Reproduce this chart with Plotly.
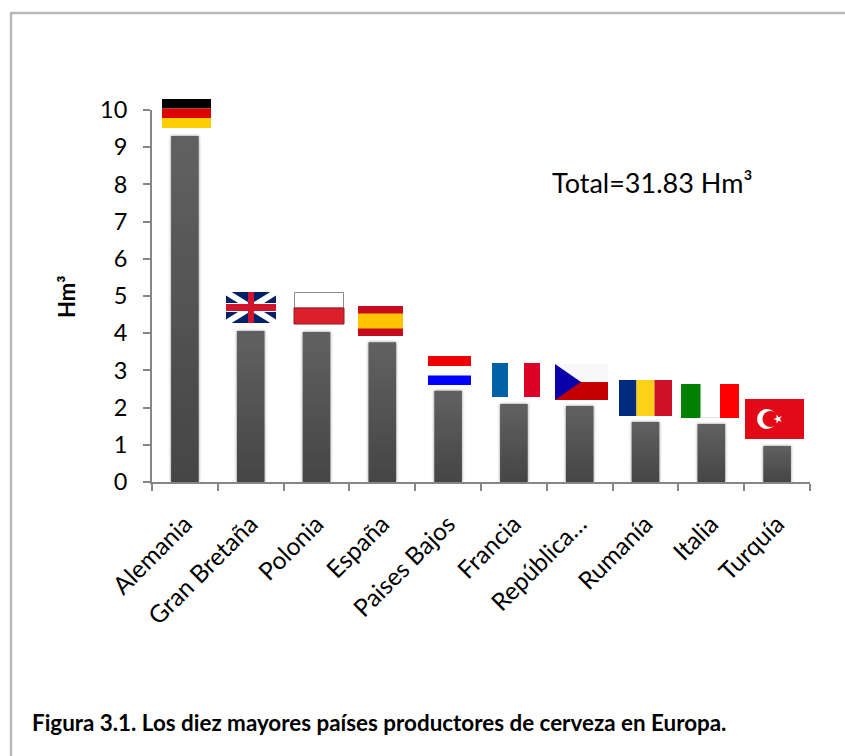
import math
import plotly.graph_objects as go

countries = ["Alemania", "Gran Bretaña", "Polonia", "España", "Paises Bajos",
             "Francia", "República…", "Rumanía", "Italia", "Turquía"]
production_hm3 = [9.3, 4.06, 4.03, 3.76, 2.45, 2.1, 2.04, 1.61, 1.56, 0.97]
y_ticks = list(range(0, 11))
total_label = "Total=31.83 Hm³"
y_title = "Hm³"
caption = "Figura 3.1. Los diez mayores países productores de cerveza en Europa."

FONT = "Lato, Carlito, Calibri, sans-serif"
L, R, T, B = 152, 810, 110, 482
W, H = 845, 756


def px(x):
    return (x - L) / (R - L)


def py(y):
    return (B - y) / (B - T)


def rect(x0, y0, x1, y1, fill, line=None, lw=1):
    return dict(type="rect", xref="paper", yref="paper", x0=px(x0), x1=px(x1), y0=py(y0), y1=py(y1),
                fillcolor=fill, line=dict(color=line or fill, width=lw if line else 0), layer="above")


def poly(points, fill):
    d = "M " + " L ".join(f"{px(a):.5f},{py(b):.5f}" for a, b in points) + " Z"
    return dict(type="path", xref="paper", yref="paper", path=d, fillcolor=fill, line=dict(width=0), layer="above")


def circle(cx, cy, r, fill):
    return dict(type="circle", xref="paper", yref="paper", x0=px(cx - r), x1=px(cx + r),
                y0=py(cy + r), y1=py(cy - r), fillcolor=fill, line=dict(width=0), layer="above")


def line(x0, y0, x1, y1, color, width):
    return dict(type="line", xref="paper", yref="paper", x0=px(x0), x1=px(x1), y0=py(y0), y1=py(y1),
                line=dict(color=color, width=width), layer="above")


shapes = [
    line(11, 13, 845, 13, "#B8B8B8", 2.5),
    line(11, 12, 11, 756, "#B8B8B8", 2.5),
    # Germany
    rect(162, 99, 211, 108.5, "#000000"), rect(162, 108.5, 211, 118, "#DD0000"), rect(162, 118, 211, 128, "#FFCE00"),
    # United Kingdom
    rect(226, 292, 276, 323, "#012169"),
    line(226, 292, 276, 323, "#FFFFFF", 6), line(226, 323, 276, 292, "#FFFFFF", 6),
    rect(226, 304, 276, 311, "#CF142B"),
    rect(226, 303, 276, 304, "#FFFFFF"), rect(226, 311, 276, 312, "#FFFFFF"),
    rect(248, 292, 254, 323, "#CF142B"),
    # Poland
    rect(294.5, 292.5, 343.5, 308, "#FFFFFF", "#8A8A8A", 1), rect(294, 308, 344, 324, "#DC1F2A", "#8E1A20", 1),
    # Spain
    rect(358, 306, 403, 336, "#C60B1E"), rect(358, 313.5, 403, 328.5, "#FFC400"),
    # Netherlands
    rect(428, 356, 471, 366, "#EE0000"), rect(428, 366, 471, 375.5, "#FAFCFA"), rect(428, 375.5, 471, 385, "#0000FF"),
    # France
    rect(492, 363, 508, 397, "#0060A8"), rect(524, 363, 540, 397, "#DC0026"),
    # Czech Republic
    rect(555, 364, 608, 382, "#F8F8F8"), rect(555, 382, 608, 400, "#C40000"),
    poly([(555, 364), (581, 382), (555, 400)], "#0A00AA"),
    # Romania
    rect(619, 380, 636.5, 416, "#002B7F"), rect(636.5, 380, 654.5, 416, "#FCD116"), rect(654.5, 380, 672, 416, "#CE1126"),
    # Italy
    rect(681, 384, 700.5, 418, "#008000"), rect(720, 384, 739, 418, "#FF0000"), rect(700.5, 417, 720, 418, "#E2E2E2"),
    # Turkey
    rect(745, 399, 804, 439, "#E30A17"), circle(767, 419, 10, "#FFFFFF"), circle(770.5, 419, 8, "#E30A17"),
]
star = []
for i in range(10):
    r = 4.6 if i % 2 == 0 else 1.9
    a = math.radians(180 + 36 * i)
    star.append((778 + r * math.cos(a), 419 + r * math.sin(a)))
shapes.append(poly(star, "#FFFFFF"))

fig = go.Figure(go.Bar(x=countries, y=production_hm3, width=0.42, marker=dict(color="#555555", line=dict(width=0))))

axis_line = dict(showline=True, linecolor="#868686", linewidth=2, ticks="outside", tickcolor="#868686",
                 tickwidth=2, ticklen=7, showgrid=False, zeroline=False)
fig.update_xaxes(tickmode="array", tickvals=countries, ticktext=countries, tickson="boundaries", tickangle=-45,
                 tickfont=dict(family=FONT, size=24.5, color="#000000"), ticklabelstandoff=16, **axis_line)
fig.update_yaxes(range=[0, 10], tickmode="array", tickvals=y_ticks, ticktext=[str(v) for v in y_ticks],
                 tickfont=dict(family=FONT, size=23.5, color="#000000"), ticklabelstandoff=11, **axis_line)

annotations = [
    dict(text=total_label, xref="paper", yref="paper", x=px(550), y=py(182), xanchor="left", yanchor="middle",
         showarrow=False, font=dict(family=FONT, size=27, color="#000000")),
    dict(text=f"<b>{y_title}</b>", xref="paper", yref="paper", x=px(66), y=py(297), textangle=-90,
         xanchor="center", yanchor="middle", showarrow=False, font=dict(family=FONT, size=22, color="#000000")),
    dict(text=f"<b>{caption}</b>", xref="paper", yref="paper", x=px(30), y=py(722), xanchor="left", yanchor="middle",
         showarrow=False, font=dict(family=FONT, size=22.4, color="#000000")),
]

fig.update_layout(width=W, height=H, autosize=False, margin=dict(l=L, r=W - R, t=T, b=H - B, pad=0),
                  paper_bgcolor="#FFFFFF", plot_bgcolor="#FFFFFF", showlegend=False,
                  bargap=0.58, shapes=shapes, annotations=annotations)

post = """
document.body.style.margin = '0';
document.documentElement.style.overflow = 'hidden';
var gd = document.getElementById('{plot_id}');
var svg = gd.querySelector('svg.main-svg');
var ns = 'http://www.w3.org/2000/svg';
var defs = document.createElementNS(ns, 'defs');
defs.innerHTML = '<linearGradient id="barfill" x1="0" y1="0" x2="0" y2="1"><stop offset="0" stop-color="#616161"/><stop offset="1" stop-color="#454545"/></linearGradient>' +
  '<filter id="barshadow" x="-40%" y="-5%" width="180%" height="110%"><feDropShadow dx="0" dy="0" stdDeviation="1.6" flood-color="#000" flood-opacity="0.45"/></filter>';
svg.insertBefore(defs, svg.firstChild);
gd.querySelectorAll('.barlayer .point path').forEach(function(p) {
  p.style.fill = 'url(#barfill)';
  p.setAttribute('filter', 'url(#barshadow)');
});
"""
fig.write_html("out.html", post_script=post, config=dict(displayModeBar=False))
